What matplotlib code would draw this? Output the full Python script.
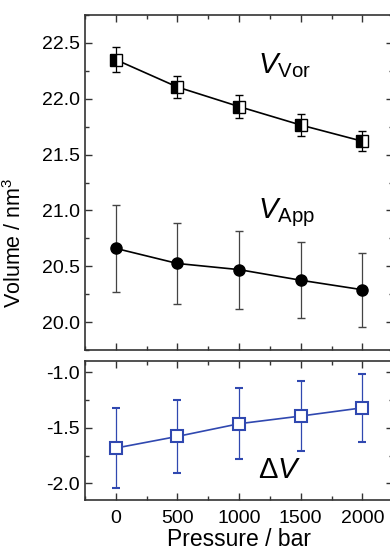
import numpy as np
import matplotlib.pyplot as plt
from matplotlib.ticker import MultipleLocator

plt.rcParams['font.family'] = ['Liberation Sans', 'DejaVu Sans']
plt.rcParams['mathtext.fontset'] = 'custom'
plt.rcParams['mathtext.rm'] = 'Liberation Sans'
plt.rcParams['mathtext.it'] = 'Liberation Sans:italic'

pressure = [0, 500, 1000, 1500, 2000]
v_vor = [22.35, 22.105, 21.93, 21.765, 21.62]
v_vor_err = [0.11, 0.10, 0.10, 0.095, 0.09]
v_app = [20.66, 20.525, 20.47, 20.375, 20.29]
v_app_err = [0.39, 0.36, 0.35, 0.34, 0.33]
dv = [-1.683, -1.578, -1.464, -1.395, -1.321]
dv_err = [0.36, 0.33, 0.32, 0.315, 0.305]

blue = '#3048b0'

fig = plt.figure(figsize=(3.9, 5.5), dpi=100)
ax1 = fig.add_axes([0.218, 0.3636, 0.79, 0.6091])
ax2 = fig.add_axes([0.218, 0.0909, 0.79, 0.2527])

ax1.errorbar(pressure, v_vor, yerr=v_vor_err, color='k', lw=1.2, elinewidth=0.9,
             capsize=3, marker='s', ms=8, fillstyle='left', mfc='k', mfcalt='white',
             mec='k', mew=1.0, zorder=3)
ax1.errorbar(pressure, v_app, yerr=v_app_err, color='k', lw=1.2, elinewidth=0.9,
             ecolor='#444444', capsize=3, marker='o', ms=8, mfc='k', mec='k', zorder=3)
ax2.errorbar(pressure, dv, yerr=dv_err, color=blue, lw=1.2, elinewidth=0.9,
             capsize=3, marker='s', ms=8, mfc='white', mec=blue, mew=1.5, zorder=3)

ax1.text(1150, 22.3, r'$V_{\mathrm{Vor}}$', fontsize=21, va='center')
ax1.text(1150, 20.98, r'$V_{\mathrm{App}}$', fontsize=21, va='center')
ax2.text(1150, -1.88, r'$\Delta V$', fontsize=21, va='center')

ax1.set_xlim(-250, 2250)
ax2.set_xlim(-250, 2250)
ax1.set_ylim(19.75, 22.75)
ax2.set_ylim(-2.15, -0.9)

for ax in (ax1, ax2):
    ax.xaxis.set_major_locator(MultipleLocator(500))
    ax.xaxis.set_minor_locator(MultipleLocator(250))
    ax.yaxis.set_major_locator(MultipleLocator(0.5))
    ax.yaxis.set_minor_locator(MultipleLocator(0.25))
    ax.tick_params(which='both', direction='in', top=True, right=True,
                   labelsize=14, color='#333333')
    ax.tick_params(which='major', length=5, width=1)
    ax.tick_params(which='minor', length=3, width=1)
    for s in ax.spines.values():
        s.set_linewidth(1.2)
        s.set_color('#333333')

ax1.tick_params(labelbottom=False)
ax2.tick_params(axis='x', pad=7)
ax1.yaxis.set_major_formatter(plt.FormatStrFormatter('%.1f'))
ax2.yaxis.set_major_formatter(plt.FormatStrFormatter('%.1f'))
ax1.set_ylabel('Volume / nm$^3$', fontsize=15.5)
ax1.yaxis.set_label_coords(-0.19, 0.32)
ax2.set_xlabel('Pressure / bar', fontsize=16.5, labelpad=1)

fig.savefig('out.png', dpi=100)
